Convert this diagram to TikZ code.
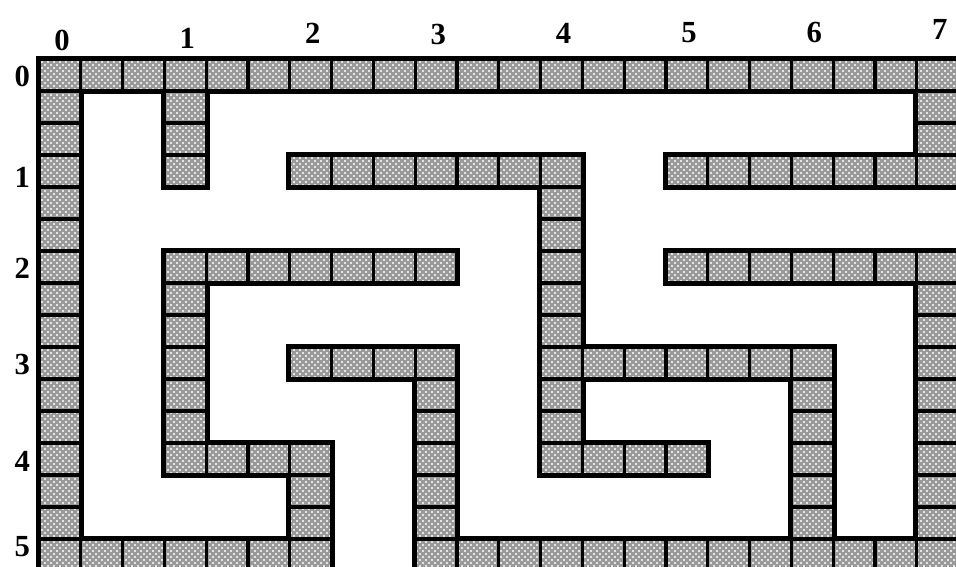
\documentclass[tikz,border=0pt]{standalone}
\usepackage{fontspec}
\setmainfont{Liberation Serif}
\usetikzlibrary{patterns,backgrounds}
\pgfdeclarepatternformonly{mazedots}{\pgfqpoint{-1pt}{-1pt}}{\pgfqpoint{3.5pt}{3.5pt}}{\pgfqpoint{4.5pt}{4.5pt}}{%
  \pgfpathcircle{\pgfqpoint{0pt}{0pt}}{0.9pt}%
  \pgfpathcircle{\pgfqpoint{2.25pt}{2.25pt}}{0.9pt}%
  \pgfusepath{fill}}
\tikzset{
  cell/.style={draw=black, line width=2.4pt, pattern=mazedots, pattern color=white,
    preaction={fill=gray!80}, minimum width=31.35pt, minimum height=24pt,
    inner sep=0pt, outer sep=0pt},
  rim/.style={draw=black, line width=5pt},
  lab/.style={font=\bfseries\fontsize{23}{23}\selectfont, inner sep=0pt}
}
\begin{document}
\begin{tikzpicture}[x=31.35pt, y=-24pt]
\useasboundingbox (-0.933,-1.844) rectangle (21.938,15.844);
\clip (-0.933,-1.844) rectangle (21.938,15.844);
% horizontal runs
\foreach \r/\a/\b in {0/0/21, 3/6/12, 3/15/21, 6/3/9, 6/15/21, 9/6/9, 9/13/18, 12/3/6, 12/13/15, 15/0/6, 15/9/21}{
  \foreach \c in {\a,...,\b}{
    \node[cell] (n-\c-\r) at (\c+0.5,\r+0.5) {};
  }
}
% vertical runs
\foreach \c/\a/\b in {0/1/14, 3/1/3, 21/1/2, 12/4/12, 3/7/11, 6/13/14, 9/10/14, 18/10/14, 21/7/14}{
  \foreach \r in {\a,...,\b}{
    \node[cell] (n-\c-\r) at (\c+0.5,\r+0.5) {};
  }
}
% thick outer rims under the cells
\begin{scope}[on background layer]
\foreach \r/\a/\b in {0/0/21, 3/6/12, 3/15/21, 6/3/9, 6/15/21, 9/6/9, 9/13/18, 12/3/6, 12/13/15, 15/0/6, 15/9/21}{
  \foreach \c in {\a,...,\b}{
    \draw[rim] (n-\c-\r.south west) rectangle (n-\c-\r.north east);
  }
}
\foreach \c/\a/\b in {0/1/14, 3/1/3, 21/1/2, 12/4/12, 3/7/11, 6/13/14, 9/10/14, 18/10/14, 21/7/14}{
  \foreach \r in {\a,...,\b}{
    \draw[rim] (n-\c-\r.south west) rectangle (n-\c-\r.north east);
  }
}
\end{scope}
% column labels
\foreach \k/\yy in {0/-0.59, 1/-0.66, 2/-0.81, 3/-0.78, 4/-0.81, 5/-0.84, 6/-0.84, 7/-0.91}{
  \node[lab] (col\k) at (3*\k+0.55,\yy) {\k};
}
% row labels
\foreach \k/\yy in {0/0.56, 1/3.69, 2/6.53, 3/9.56, 4/12.56, 5/15.25}{
  \node[lab] (row\k) at (-0.4,\yy) {\k};
}
\end{tikzpicture}
\end{document}
